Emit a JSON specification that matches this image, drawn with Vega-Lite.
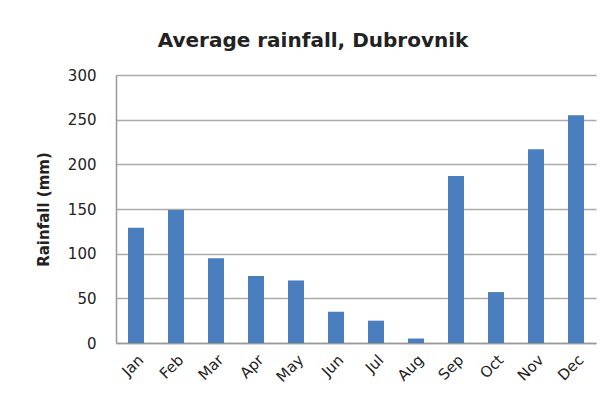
{
  "$schema": "https://vega.github.io/schema/vega-lite/v6.json",
  "description": "Average rainfall, Dubrovnik",
  "autosize": "none",
  "width": 480,
  "height": 268,
  "padding": {"left": 116, "top": 75, "right": 7, "bottom": 62},
  "background": "white",
  "title": {
    "text": "Average rainfall, Dubrovnik",
    "font": "DejaVu Sans",
    "fontSize": 20,
    "fontWeight": "bold",
    "color": "#222222",
    "anchor": "middle",
    "dx": -43,
    "offset": 17
  },
  "data": {
    "values": [
      {"month": "Jan", "rain": 129},
      {"month": "Feb", "rain": 149},
      {"month": "Mar", "rain": 95},
      {"month": "Apr", "rain": 75},
      {"month": "May", "rain": 70},
      {"month": "Jun", "rain": 35},
      {"month": "Jul", "rain": 25},
      {"month": "Aug", "rain": 5},
      {"month": "Sep", "rain": 187},
      {"month": "Oct", "rain": 57},
      {"month": "Nov", "rain": 217},
      {"month": "Dec", "rain": 255}
    ]
  },
  "mark": {"type": "bar", "color": "#4A7EBF"},
  "encoding": {
    "x": {
      "field": "month",
      "type": "ordinal",
      "sort": null,
      "scale": {"paddingInner": 0.6, "paddingOuter": 0.3},
      "axis": {
        "title": null,
        "labelAngle": -45,
        "labelFont": "DejaVu Sans",
        "labelFontSize": 15,
        "labelColor": "#222222",
        "labelPadding": 9,
        "ticks": false,
        "domainColor": "#999999",
        "domainWidth": 1.5
      }
    },
    "y": {
      "field": "rain",
      "type": "quantitative",
      "scale": {"domain": [0, 300], "nice": false},
      "axis": {
        "title": "Rainfall (mm)",
        "titleFont": "DejaVu Sans",
        "titleFontSize": 15,
        "titleFontWeight": "bold",
        "titleColor": "#222222",
        "titlePadding": 16,
        "values": [0, 50, 100, 150, 200, 250, 300],
        "labelFont": "DejaVu Sans",
        "labelFontSize": 15,
        "labelColor": "#222222",
        "labelPadding": 20,
        "ticks": false,
        "domainColor": "#999999",
        "domainWidth": 1.5,
        "grid": true,
        "gridColor": "#aaaaaa",
        "gridWidth": 1.5
      }
    }
  },
  "config": {
    "view": {"stroke": null}
  }
}
